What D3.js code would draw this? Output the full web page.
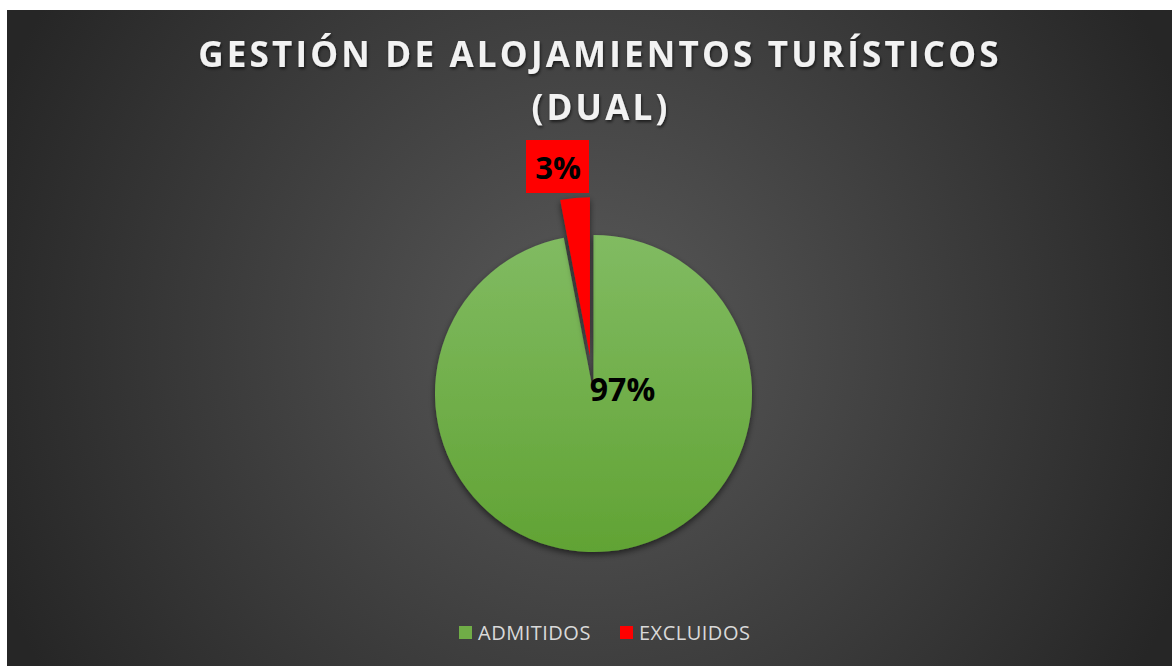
<!DOCTYPE html>
<html lang="es">
<head>
<meta charset="UTF-8">
<title>Gestión de alojamientos turísticos (Dual)</title>
<script src="https://d3js.org/d3.v7.min.js"></script>
<style>
	html, body { margin: 0; padding: 0; background: #fff; }
	svg { display: block; }
	.title { font-family: "Open Sans", sans-serif; font-weight: 700; fill: #f2f2f2; }
	.legend-label { font-family: "Open Sans", sans-serif; font-size: 20px; letter-spacing: 0.5px; fill: #d9d9d9; }
	.pct { font-family: "Open Sans", sans-serif; font-weight: 700; fill: #000; }
</style>
</head>
<body>
<svg id="chart" width="1172" height="666"></svg>
<script>
const width = 1172, height = 666;

// data
const categories = ["ADMITIDOS", "EXCLUIDOS"];
const values = [97, 3];
const colors = ["#70ad47", "#ff0000"];
const titleLines = ["GESTIÓN DE ALOJAMIENTOS TURÍSTICOS", "(DUAL)"];

const cx = 593.5, cy = 393.5, radius = 158.5, explode = 38;

const svg = d3.select("#chart");
const defs = svg.append("defs");

// background radial gradient
const bg = defs.append("radialGradient").attr("id", "bgGrad")
	.attr("gradientUnits", "userSpaceOnUse")
	.attr("cx", 590).attr("cy", 340).attr("r", 640);
bg.append("stop").attr("offset", "0%").attr("stop-color", "#595959");
bg.append("stop").attr("offset", "100%").attr("stop-color", "#262626");

// green slice gradient (lighter on top)
const gGreen = defs.append("linearGradient").attr("id", "greenGrad")
	.attr("x1", 0).attr("y1", 0).attr("x2", 0).attr("y2", 1);
gGreen.append("stop").attr("offset", "0%").attr("stop-color", "#81bb62");
gGreen.append("stop").attr("offset", "100%").attr("stop-color", "#61a334");

const shadow = defs.append("filter").attr("id", "shadow")
	.attr("x", "-20%").attr("y", "-20%").attr("width", "140%").attr("height", "140%");
shadow.append("feDropShadow").attr("dx", 0).attr("dy", 3).attr("stdDeviation", 3)
	.attr("flood-color", "#000").attr("flood-opacity", 0.55);

const titleShadow = defs.append("filter").attr("id", "tshadow")
	.attr("x", "-10%").attr("y", "-30%").attr("width", "120%").attr("height", "160%");
titleShadow.append("feDropShadow").attr("dx", 1).attr("dy", 2).attr("stdDeviation", 1.5)
	.attr("flood-color", "#000").attr("flood-opacity", 0.6);

svg.append("rect").attr("x", 7).attr("y", 10)
	.attr("width", width - 7).attr("height", height - 10)
	.attr("fill", "url(#bgGrad)");

// title
titleLines.forEach((line, i) => {
	svg.append("text").attr("class", "title")
		.attr("x", 600 + i).attr("y", 67 + i * 53).attr("text-anchor", "middle")
		.attr("font-size", 35).attr("letter-spacing", "3.2px")
		.attr("filter", "url(#tshadow)")
		.text(line);
});

// pie
const pie = d3.pie().sort(null).value(d => d);
const arcs = pie(values);
const arc = d3.arc().innerRadius(0).outerRadius(radius);
const fills = ["url(#greenGrad)", colors[1]];

const offset = (d, i) => {
	if (i === 0) return [0, 0];
	const a = (d.startAngle + d.endAngle) / 2;
	return [explode * Math.sin(a), -explode * Math.cos(a)];
};

const g = svg.append("g").attr("transform", `translate(${cx},${cy})`);
g.selectAll("path.slice")
	.data(arcs)
	.enter()
	.append("path")
	.attr("class", "slice")
	.attr("d", arc)
	.attr("fill", (d, i) => fills[i])
	.attr("filter", "url(#shadow)")
	.attr("transform", (d, i) => `translate(${offset(d, i)})`);

// data labels
g.append("text").attr("class", "pct")
	.attr("x", 29).attr("y", 7).attr("text-anchor", "middle")
	.attr("font-size", 32)
	.text(values[0] + "%");

const lbl = g.append("g").attr("transform", `translate(${-36},${-237})`);
lbl.append("rect").attr("x", -31.5).attr("y", -16.5).attr("width", 63).attr("height", 53)
	.attr("fill", colors[1]);
lbl.append("text").attr("class", "pct")
	.attr("x", 0.5).attr("y", 22.5).attr("text-anchor", "middle")
	.attr("font-size", 31)
	.text(values[1] + "%");

// legend
const legendItems = [
	{ name: categories[0], color: "#70ad47", x: 459 },
	{ name: categories[1], color: colors[1], x: 620 }
];
const leg = svg.append("g");
legendItems.forEach(it => {
	leg.append("rect").attr("x", it.x).attr("y", 626)
		.attr("width", 13).attr("height", 13).attr("fill", it.color);
	leg.append("text").attr("class", "legend-label")
		.attr("x", it.x + 19).attr("y", 640).text(it.name);
});
</script>
</body>
</html>
